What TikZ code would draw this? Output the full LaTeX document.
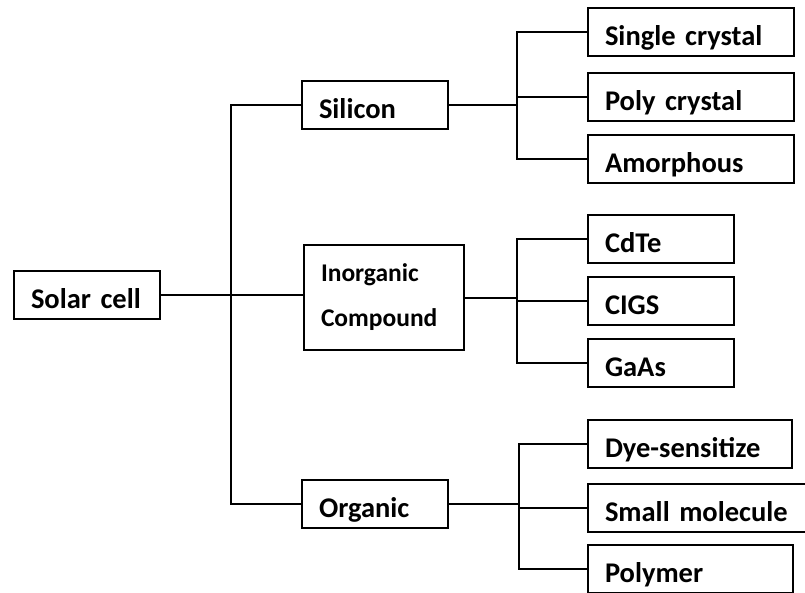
\documentclass[tikz,border=0pt]{standalone}
\usepackage{fontspec}
\setmainfont{Carlito}

\begin{document}
\begin{tikzpicture}[x=1pt,y=-1pt]
	\tikzstyle{box} = [draw=black,line width=2pt,anchor=north west,inner xsep=17pt,inner ysep=0pt,text height=37pt,text depth=11pt,align=left,font=\fontsize{28.5}{34}\selectfont\bfseries]
	\tikzstyle{link} = [draw=black,line width=2pt]
	\useasboundingbox (0,0) rectangle (805,592);
	% root
	\node[box,text width=112pt] (solar) at (13,270) {Solar cell};
	% families
	\node[box,text width=112pt] (silicon) at (301,80) {Silicon};
	\node[box,text width=126pt,text height=,text depth=,minimum height=105pt,font=\fontsize{25.5}{45}\selectfont\bfseries] (inorganic) at (303,244) {Inorganic\\Compound};
	\node[box,text width=112pt] (organic) at (301,479) {Organic};
	% materials
	\foreach \name/\y/\w/\txt in {single/7/172/Single crystal, poly/72/172/Poly crystal, amorph/134/172/Amorphous,
		cdte/214/112/CdTe, cigs/276/112/CIGS, gaas/338/112/GaAs,
		dye/419/170/Dye-sensitize, small/483/186/Small molecule, polymer/544/171/Polymer}
		\node[box,text width=\w pt] (\name) at (587,\y) {\txt};
	% trunk
	\coordinate (trunk) at (231,0);
	\draw[link] (solar.east) -- (solar.east -| inorganic.west);
	\draw[link] (silicon.west) -| (trunk |- organic.west) -- (organic.west);
	% branches
	\foreach \parent/\x/\a/\b/\c in {silicon/517/single/poly/amorph, inorganic/517/cdte/cigs/gaas, organic/519/dye/small/polymer} {
		\coordinate (bar) at (\x,0);
		\draw[link] (\parent.east) -- (\parent.east -| bar);
		\draw[link] (\a.west) -| (bar |- \c.west) -- (\c.west);
		\draw[link] (bar |- \b.west) -- (\b.west);
	}
\end{tikzpicture}
\end{document}
